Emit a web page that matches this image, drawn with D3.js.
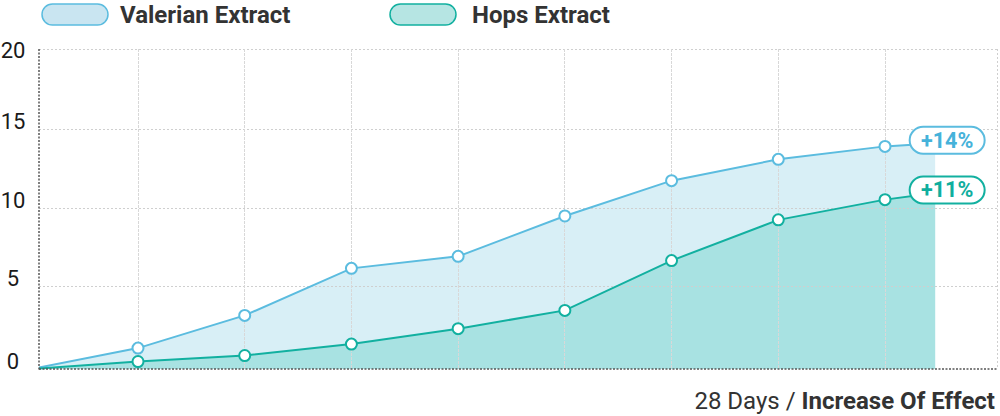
<!DOCTYPE html>
<html><head><meta charset="utf-8">
<script src="https://cdn.jsdelivr.net/npm/d3@7"></script>
<style>
html,body{margin:0;padding:0;background:#fff;}
svg{display:block;font-family:Roboto,"Noto Sans",sans-serif;}
</style></head>
<body><svg id="c" width="1000" height="416"></svg>
<script>
// data
const seriesNames = ["Valerian Extract", "Hops Extract"];
const xSteps = [0, 1, 2, 3, 4, 5, 6, 7, 8, 8.47];
const valerian = [0, 1.26, 3.23, 6.13, 6.9, 9.49, 11.73, 13.08, 13.9, 14.1];
const hops = [0, 0.45, 0.81, 1.5, 2.43, 3.53, 6.63, 9.24, 10.53, 10.95];
const endLabels = ["+14%", "+11%"];
const yTicks = [0, 5, 10, 15, 20];
const xGridTicks = [1, 2, 3, 4, 5, 6, 7, 8];
const footerLight = "28 Days / ";
const footerBold = "Increase Of Effect";

const colors = [
  {line:"#5bbcdf", fill:"#d8eff6", legFill:"#c9e5f1", text:"#45b2da"},
  {line:"#12b0a0", fill:"#a8e2e2", legFill:"#b6e5e3", text:"#0fae9e"}
];

const svg = d3.select("#c");
const L = 39, R = 997;
const x = d3.scaleLinear().domain([1, 8]).range([138, 885]);
const y = d3.scaleLinear().domain([0, 5, 10, 15, 20]).range([369, 286, 208, 129, 49]);

svg.append("defs").append("clipPath").attr("id", "plot")
  .append("rect").attr("x", L).attr("y", 0).attr("width", R - L).attr("height", 416);

// grid
const g = svg.append("g");
g.selectAll(".hg").data(yTicks.filter(d => d > 0)).join("line")
  .attr("x1", L).attr("x2", R).attr("y1", d => y(d)).attr("y2", d => y(d))
  .attr("stroke", "#cfcfcf").attr("stroke-width", 1).attr("stroke-dasharray", "2,2")
  .attr("shape-rendering", "crispEdges");
g.selectAll(".vg").data(xGridTicks).join("line")
  .attr("x1", d => x(d)).attr("x2", d => x(d)).attr("y1", y(20)).attr("y2", y(0))
  .attr("stroke", "#d8d8d8").attr("stroke-width", 1)
  .attr("stroke-dasharray", "3,1")
  .attr("shape-rendering", "crispEdges");
g.append("line").attr("x1", R).attr("x2", R).attr("y1", y(20)).attr("y2", y(0))
  .attr("stroke", "#cfcfcf").attr("stroke-dasharray", "2,2").attr("shape-rendering", "crispEdges");

// areas
const data = [valerian, hops];
const plotG = svg.append("g").attr("clip-path", "url(#plot)");
data.forEach((vals, i) => {
  const pts = vals.map((v, j) => [xSteps[j], v]);
  plotG.append("path").datum(pts)
    .attr("fill", colors[i].fill)
    .attr("d", d3.area().x(d => x(d[0])).y0(y(0)).y1(d => y(d[1])));
});
g.raise();
const lineG = svg.append("g").attr("clip-path", "url(#plot)");
data.forEach((vals, i) => {
  const pts = vals.map((v, j) => [xSteps[j], v]);
  lineG.append("path").datum(pts)
    .attr("fill", "none").attr("stroke", colors[i].line).attr("stroke-width", 2)
    .attr("d", d3.line().x(d => x(d[0])).y(d => y(d[1])));
});

// axes lines
svg.append("line").attr("x1", L).attr("x2", L).attr("y1", y(20)).attr("y2", y(0) + 1)
  .attr("stroke", "#555").attr("stroke-width", 1.5).attr("stroke-dasharray", "2,1.5");
svg.append("line").attr("x1", L).attr("x2", R + 1).attr("y1", y(0)).attr("y2", y(0))
  .attr("stroke", "#555").attr("stroke-width", 1.5).attr("stroke-dasharray", "2,1.5");

// points
data.forEach((vals, i) => {
  const pts = vals.map((v, j) => [xSteps[j], v]).slice(1, vals.length - 1);
  svg.append("g").selectAll("circle").data(pts).join("circle")
    .attr("cx", d => x(d[0])).attr("cy", d => y(d[1])).attr("r", 5.5)
    .attr("fill", "#fff").attr("stroke", colors[i].line).attr("stroke-width", 2);
});

// end labels
data.forEach((vals, i) => {
  const last = vals.length - 1;
  const cx = x(xSteps[last]) + 12, cy = y(vals[last]) - 3;
  const lg = svg.append("g").attr("transform", `translate(${cx},${cy})`);
  lg.append("rect").attr("x", -37.5).attr("y", -13.5).attr("width", 75).attr("height", 27)
    .attr("rx", 13.5).attr("fill", "#fff").attr("stroke", colors[i].line).attr("stroke-width", 2);
  lg.append("text").attr("text-anchor", "middle").attr("y", 7.5)
    .attr("font-size", 21.5).attr("font-weight", 700).attr("fill", colors[i].text)
    .text(endLabels[i]);
});

// y tick labels
svg.append("g").selectAll("text").data(yTicks).join("text")
  .attr("x", 13).attr("y", d => Math.max(y(d), 58))
  .attr("text-anchor", "middle").attr("font-size", 22).attr("fill", "#1a1a1a")
  .text(d => d);

// legend
const legX = [42, 390];
const legTextX = [120, 472];
seriesNames.forEach((n, i) => {
  svg.append("rect").attr("x", legX[i]).attr("y", 4).attr("width", 66).attr("height", 21)
    .attr("rx", 10.5).attr("fill", colors[i].legFill).attr("stroke", colors[i].line).attr("stroke-width", 1.5);
  svg.append("text").attr("x", legTextX[i]).attr("y", 23)
    .attr("font-size", 24).attr("font-weight", 700).attr("fill", "#333").text(n);
});

// footer
const ft = svg.append("text").attr("x", 995).attr("y", 409).attr("text-anchor", "end")
  .attr("font-size", 24).attr("fill", "#333");
ft.append("tspan").text(footerLight);
ft.append("tspan").attr("font-weight", 700).text(footerBold);
</script></body></html>
